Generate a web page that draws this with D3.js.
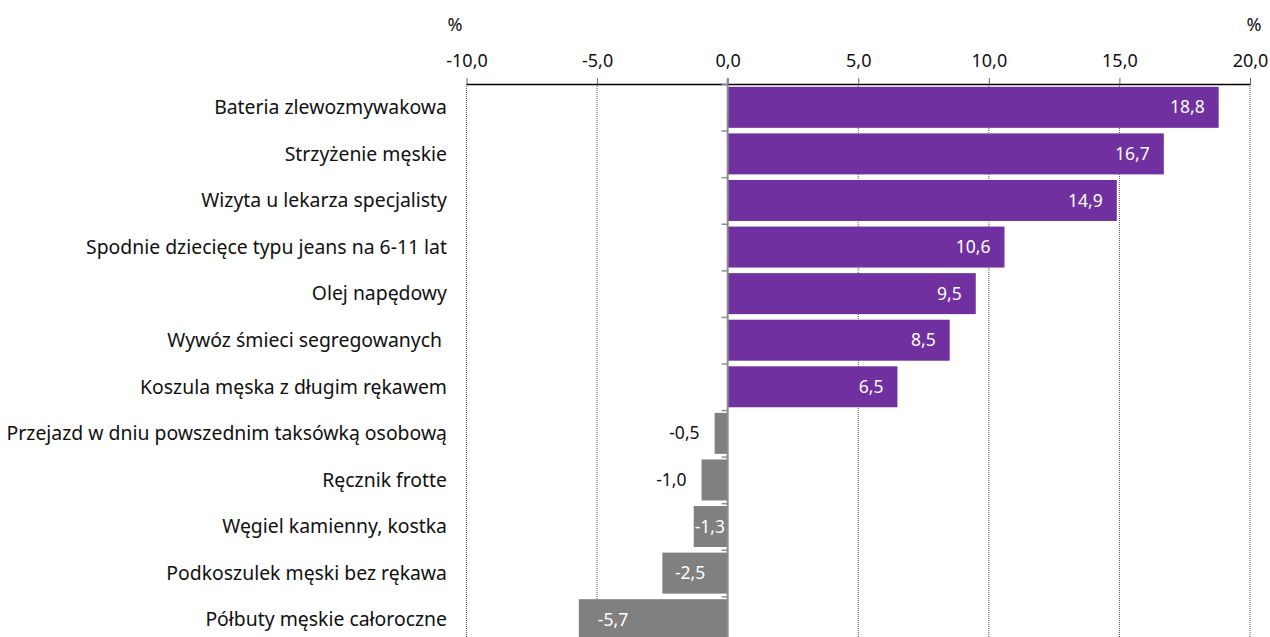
<!DOCTYPE html>
<html>
<head>
<meta charset="utf-8">
<script src="https://cdn.jsdelivr.net/npm/d3@7"></script>
<style>
  body { margin: 0; background: #fff; }
  text { font-family: "Noto Sans", sans-serif; }
</style>
</head>
<body>
<script>
var categories = [
  "Bateria zlewozmywakowa",
  "Strzyżenie męskie",
  "Wizyta u lekarza specjalisty",
  "Spodnie dziecięce typu jeans na 6-11 lat",
  "Olej napędowy",
  "Wywóz śmieci segregowanych ",
  "Koszula męska z długim rękawem",
  "Przejazd w dniu powszednim taksówką osobową",
  "Ręcznik frotte",
  "Węgiel kamienny, kostka",
  "Podkoszulek męski bez rękawa",
  "Półbuty męskie całoroczne"
];
var values = [18.8, 16.7, 14.9, 10.6, 9.5, 8.5, 6.5, -0.5, -1.0, -1.3, -2.5, -5.7];
var ticks = [-10, -5, 0, 5, 10, 15, 20];

var width = 1270,
    height = 637;

var fmt = d => d.toFixed(1).replace(".", ",");

var x = d3.scaleLinear()
    .domain([-10, 20])
    .range([466.5, 1250]);

var y = d3.scaleBand()
    .domain(categories)
    .range([84.5, 642.5])
    .paddingInner(0.12)
    .paddingOuter(0.05);

var svg = d3.select("body").append("svg")
    .attr("width", width)
    .attr("height", height);

// dotted grid
svg.append("g")
  .selectAll("line")
  .data(ticks.filter(t => t !== 0))
  .enter().append("line")
    .attr("x1", d => x(d)).attr("x2", d => x(d))
    .attr("y1", 84).attr("y2", height)
    .attr("stroke", "#555")
    .attr("stroke-width", 1)
    .attr("stroke-dasharray", "1,1");

// top axis
var axis = svg.append("g")
    .attr("transform", "translate(0,84)")
    .call(d3.axisTop(x).tickValues(ticks).tickFormat(fmt).tickSize(6).tickSizeOuter(0));
axis.attr("font-family", null).attr("font-size", null);
axis.select(".domain").attr("stroke", "#000").attr("stroke-width", 1.3);
axis.selectAll(".tick line").attr("stroke", "#666");
axis.selectAll(".tick text")
    .attr("font-size", 18)
    .attr("fill", "#111")
    .attr("y", -17);

svg.append("text").attr("x", 455).attr("y", 31).attr("text-anchor", "middle")
    .attr("font-size", 18).attr("fill", "#111").text("%");
svg.append("text").attr("x", 1254).attr("y", 31).attr("text-anchor", "middle")
    .attr("font-size", 18).attr("fill", "#111").text("%");

// bars
svg.append("g")
  .selectAll("rect")
  .data(values)
  .enter().append("rect")
    .attr("x", d => x(Math.min(0, d)))
    .attr("y", (d, i) => y(categories[i]))
    .attr("width", d => Math.abs(x(d) - x(0)))
    .attr("height", y.bandwidth())
    .attr("fill", d => d >= 0 ? "#7030A0" : "#808080");

// zero line with category ticks
svg.append("line")
    .attr("x1", x(0)).attr("x2", x(0))
    .attr("y1", 78).attr("y2", height)
    .attr("stroke", "#8c8c8c").attr("stroke-width", 2);
var step = y.step();
svg.append("g")
  .selectAll("line")
  .data(d3.range(categories.length + 1))
  .enter().append("line")
    .attr("x1", x(0) - 6).attr("x2", x(0))
    .attr("y1", i => y.range()[0] + i * step)
    .attr("y2", i => y.range()[0] + i * step)
    .attr("stroke", "#8c8c8c").attr("stroke-width", 1.5);

// category labels
svg.append("g")
  .selectAll("text")
  .data(categories)
  .enter().append("text")
    .attr("x", 447)
    .attr("y", d => y(d) + y.bandwidth() / 2)
    .attr("dy", "0.35em")
    .attr("text-anchor", "end")
    .attr("font-size", 19.4)
    .attr("fill", "#111")
    .style("white-space", "pre")
    .text(d => d);

// value labels
svg.append("g")
  .selectAll("text")
  .data(values)
  .enter().append("text")
    .attr("y", (d, i) => y(categories[i]) + y.bandwidth() / 2)
    .attr("dy", "0.35em")
    .attr("font-size", 17.5)
    .attr("fill", d => (d >= 0 || d <= -1.3) ? "#fff" : "#111")
    .attr("text-anchor", d => d >= 0 || d > -1.3 ? "end" : "start")
    .attr("x", function(d) {
      if (d >= 0) return x(d) - 14;
      if (d > -1.3) return x(d) - 15;
      var w = x(0) - x(d);
      return x(d) + Math.min(19, Math.max(1, (w - 34) / 2.5));
    })
    .text(fmt);
</script>
</body>
</html>
